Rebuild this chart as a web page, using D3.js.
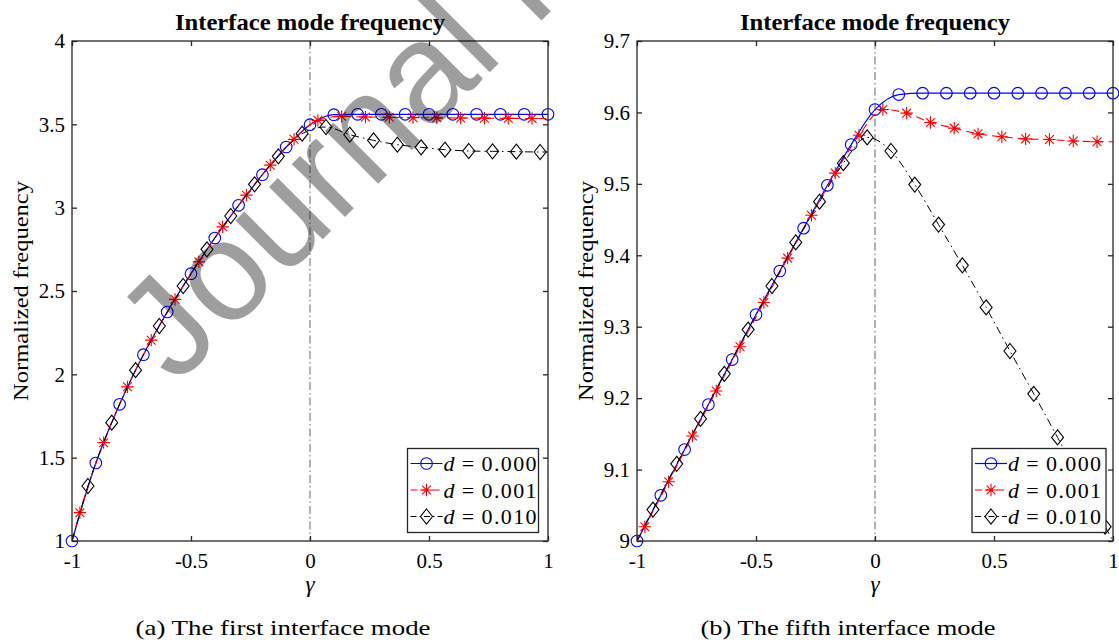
<!DOCTYPE html>
<html>
<head>
<meta charset="utf-8">
<script src="https://cdn.jsdelivr.net/npm/d3@7"></script>
<style>
  html, body { margin: 0; padding: 0; background: #fff; }
  svg { display: block; }
  text { font-family: "Liberation Serif", "Times New Roman", serif; fill: #000; }
  text.wm { font-family: "Liberation Sans", Arial, sans-serif; }
</style>
</head>
<body>
<svg id="chart" width="1119" height="642"></svg>
<script>
// ---------------- data ----------------
const gammaCircle = [-1, -0.9, -0.8, -0.7, -0.6, -0.5, -0.4, -0.3, -0.2, -0.1, 0, 0.1, 0.2, 0.3, 0.4, 0.5, 0.6, 0.7, 0.8, 0.9, 1];
const gammaStar = [-0.967, -0.867, -0.767, -0.667, -0.567, -0.467, -0.367, -0.267, -0.167, -0.067, 0.033, 0.133, 0.233, 0.333, 0.433, 0.533, 0.633, 0.733, 0.833, 0.933];
const gammaDiamond = [-0.933, -0.833, -0.733, -0.633, -0.533, -0.433, -0.333, -0.233, -0.133, -0.033, 0.067, 0.167, 0.267, 0.367, 0.467, 0.567, 0.667, 0.767, 0.867, 0.967];
const gammaStart = -1;
const gammaEnd = 1;

// (a) first interface mode
const freqA_d000 = [1.000, 1.468, 1.820, 2.118, 2.374, 2.604, 2.818, 3.014, 3.198, 3.364, 3.498, 3.558, 3.560, 3.560, 3.560, 3.560, 3.560, 3.560, 3.560, 3.560, 3.560];
const freqA_d001 = [1.170, 1.590, 1.925, 2.205, 2.450, 2.675, 2.885, 3.075, 3.255, 3.410, 3.524, 3.548, 3.544, 3.542, 3.540, 3.539, 3.538, 3.537, 3.536, 3.535];
const freqA_d010 = [1.330, 1.710, 2.025, 2.290, 2.530, 2.750, 2.950, 3.140, 3.308, 3.444, 3.484, 3.438, 3.404, 3.378, 3.362, 3.348, 3.340, 3.338, 3.336, 3.334];
const freqA_start = 1.000;
const freqA_end = [3.560, 3.535, 3.334];

// (b) fifth interface mode
const freqB_d000 = [9.000, 9.064, 9.128, 9.191, 9.254, 9.317, 9.378, 9.438, 9.498, 9.555, 9.604, 9.625, 9.627, 9.627, 9.627, 9.627, 9.627, 9.627, 9.627, 9.627, 9.627];
const freqB_d001 = [9.020, 9.083, 9.147, 9.210, 9.272, 9.334, 9.396, 9.456, 9.515, 9.568, 9.604, 9.599, 9.586, 9.578, 9.570, 9.566, 9.563, 9.562, 9.560, 9.559];
const freqB_d010 = [9.044, 9.108, 9.171, 9.234, 9.296, 9.357, 9.418, 9.475, 9.529, 9.565, 9.546, 9.499, 9.443, 9.386, 9.327, 9.266, 9.206, 9.145, 9.083, 9.020];
const freqB_start = 9.000;
const freqB_end = [9.627, 9.559, 9.000];

const xTicks = [-1, -0.5, 0, 0.5, 1];
const xTickLabels = ["-1", "-0.5", "0", "0.5", "1"];
const yTicksA = [1, 1.5, 2, 2.5, 3, 3.5, 4];
const yTickLabelsA = ["1", "1.5", "2", "2.5", "3", "3.5", "4"];
const yTicksB = [9, 9.1, 9.2, 9.3, 9.4, 9.5, 9.6, 9.7];
const yTickLabelsB = ["9", "9.1", "9.2", "9.3", "9.4", "9.5", "9.6", "9.7"];

const seriesNames = ["0.000", "0.001", "0.010"];
const panelTitle = "Interface mode frequency";
const yAxisLabel = "Normalized frequency";
const xAxisLabel = "γ";
const captions = ["(a) The first interface mode", "(b) The fifth interface mode"];
const watermark = "Journal Pre-proof";

// ---------------- styles ----------------
const seriesStyle = [
  { color: "#0000ff", dash: null, marker: "circle", width: 1.2 },
  { color: "#ff0000", dash: "8,5", marker: "star", width: 1.1 },
  { color: "#000000", dash: "8,4,1.5,4", marker: "diamond", width: 1.0 }
];
const axisColor = "#262626";

const svg = d3.select("#chart");

function markerPath(type) {
  if (type === "diamond") return "M0,-7.5L6,0L0,7.5L-6,0Z";
  const a = 6.2, b = 4.4;
  return `M${-a},0L${a},0M0,${-a}L0,${a}M${-b},${-b}L${b},${b}M${-b},${b}L${b},${-b}`;
}

function drawMarker(g, type, x, y, color) {
  if (type === "circle") {
    g.append("circle").attr("cx", x).attr("cy", y).attr("r", 5.8)
      .attr("fill", "none").attr("stroke", color).attr("stroke-width", 1.1);
  } else {
    g.append("path").attr("d", markerPath(type)).attr("transform", `translate(${x},${y})`)
      .attr("fill", "none").attr("stroke", color).attr("stroke-width", 1.1);
  }
}

function drawPanel(cfg) {
  const { x0, x1, y0, y1, yDomain, yTicks, yTickLabels, series, start, ends, vColor, vWidth, legendX, captionX } = cfg;
  const x = d3.scaleLinear().domain([-1, 1]).range([x0, x1]);
  const y = d3.scaleLinear().domain(yDomain).range([y1, y0]);
  const g = svg.append("g");

  g.append("line").attr("x1", x(0)).attr("x2", x(0)).attr("y1", y0).attr("y2", y1)
    .attr("stroke", vColor).attr("stroke-width", vWidth).attr("stroke-dasharray", "8,3,1.5,3");

  const clipId = "clip" + x0;
  svg.append("clipPath").attr("id", clipId).append("rect")
    .attr("x", x0).attr("y", y0).attr("width", x1 - x0).attr("height", y1 - y0);

  const line = d3.line().x(d => x(d[0])).y(d => y(d[1])).curve(d3.curveMonotoneX);
  const gammas = [gammaCircle, gammaStar, gammaDiamond];

  series.forEach((vals, i) => {
    const st = seriesStyle[i];
    let pts = gammas[i].map((gm, k) => [gm, vals[k]]);
    const markPts = pts.slice();
    if (pts[0][0] !== gammaStart) pts.unshift([gammaStart, start]);
    if (pts[pts.length - 1][0] !== gammaEnd) pts.push([gammaEnd, ends[i]]);
    g.append("path").datum(pts).attr("d", line).attr("fill", "none")
      .attr("stroke", st.color).attr("stroke-width", st.width)
      .attr("stroke-dasharray", st.dash).attr("clip-path", `url(#${clipId})`);
    const mg = g.append("g");
    markPts.forEach(p => drawMarker(mg, st.marker, x(p[0]), y(p[1]), st.color));
  });

  g.append("rect").attr("x", x0).attr("y", y0).attr("width", x1 - x0).attr("height", y1 - y0)
    .attr("fill", "none").attr("stroke", axisColor).attr("stroke-width", 1.3);

  const tl = 5;
  const xAxisB = d3.axisBottom(x).tickValues(xTicks).tickSizeInner(-tl).tickSizeOuter(0)
    .tickFormat((d, i) => xTickLabels[i]).tickPadding(12);
  const gx = g.append("g").attr("transform", `translate(0,${y1})`).call(xAxisB);
  gx.attr("font-size", 21).attr("font-family", null);
  gx.select(".domain").remove();
  gx.selectAll(".tick line").attr("stroke", axisColor).attr("stroke-width", 1.3);
  gx.selectAll(".tick text").attr("fill", "#000");
  const xAxisT = d3.axisTop(x).tickValues(xTicks).tickSizeInner(-tl).tickSizeOuter(0).tickFormat("");
  const gxt = g.append("g").attr("transform", `translate(0,${y0})`).call(xAxisT);
  gxt.select(".domain").remove();
  gxt.selectAll(".tick line").attr("stroke", axisColor).attr("stroke-width", 1.3);

  const yAxisL = d3.axisLeft(y).tickValues(yTicks).tickSizeInner(-tl).tickSizeOuter(0)
    .tickFormat((d, i) => yTickLabels[i]).tickPadding(7);
  const gy = g.append("g").attr("transform", `translate(${x0},0)`).call(yAxisL);
  gy.attr("font-size", 21).attr("font-family", null);
  gy.select(".domain").remove();
  gy.selectAll(".tick line").attr("stroke", axisColor).attr("stroke-width", 1.3);
  gy.selectAll(".tick text").attr("fill", "#000");
  const yAxisR = d3.axisRight(y).tickValues(yTicks).tickSizeInner(-tl).tickSizeOuter(0).tickFormat("");
  const gyr = g.append("g").attr("transform", `translate(${x1},0)`).call(yAxisR);
  gyr.select(".domain").remove();
  gyr.selectAll(".tick line").attr("stroke", axisColor).attr("stroke-width", 1.3);

  g.append("text").attr("x", (x0 + x1) / 2).attr("y", 30).attr("text-anchor", "middle")
    .attr("font-size", 23.5).attr("font-weight", "bold")
    .attr("textLength", 270).attr("lengthAdjust", "spacingAndGlyphs").text(panelTitle);
  g.append("text").attr("transform", `translate(${x0 - 44},${(y0 + y1) / 2}) rotate(-90)`)
    .attr("text-anchor", "middle").attr("font-size", 22)
    .attr("textLength", 220).attr("lengthAdjust", "spacingAndGlyphs").text(yAxisLabel);
  g.append("text").attr("x", x(0)).attr("y", 592).attr("text-anchor", "middle")
    .attr("font-size", 23).attr("font-style", "italic").text(xAxisLabel);
  g.append("text").attr("x", captionX).attr("y", 635).attr("text-anchor", "middle")
    .attr("font-size", 21).attr("textLength", 295).attr("lengthAdjust", "spacingAndGlyphs").text(cfg.caption);

  const lw = cfg.legendW, lh = 84, ly = 448.5;
  const lg = g.append("g").attr("transform", `translate(${legendX},${ly})`);
  lg.append("rect").attr("width", lw).attr("height", lh).attr("fill", "#fff")
    .attr("stroke", axisColor).attr("stroke-width", 1.3);
  seriesNames.forEach((nm, i) => {
    const st = seriesStyle[i];
    const ry = 15 + i * 26.5;
    lg.append("line").attr("x1", 3).attr("x2", 35).attr("y1", ry).attr("y2", ry)
      .attr("stroke", st.color).attr("stroke-width", st.width).attr("stroke-dasharray", st.dash ? (i === 1 ? "7,4" : "6,3,1.5,3") : null);
    drawMarker(lg, st.marker, 19, ry, st.color);
    const t = lg.append("text").attr("x", 36).attr("y", ry + 7.5).attr("font-size", 22)
      .attr("textLength", 93).attr("lengthAdjust", "spacing");
    t.append("tspan").attr("font-style", "italic").text("d");
    t.append("tspan").attr("dx", 6).text("=");
    t.append("tspan").attr("dx", 6).text(nm);
  });
}

drawPanel({
  x0: 72, x1: 548, y0: 41, y1: 541, yDomain: [1, 4], yTicks: yTicksA, yTickLabels: yTickLabelsA,
  series: [freqA_d000, freqA_d001, freqA_d010], start: freqA_start, ends: freqA_end,
  vColor: "#8c8c8c", vWidth: 1.3, legendX: 407.5, legendW: 131, captionX: 283, caption: captions[0]
});
drawPanel({
  x0: 637, x1: 1113, y0: 41, y1: 541, yDomain: [9, 9.7], yTicks: yTicksB, yTickLabels: yTickLabelsB,
  series: [freqB_d000, freqB_d001, freqB_d010], start: freqB_start, ends: freqB_end,
  vColor: "#3a3a3a", vWidth: 0.8, legendX: 972, legendW: 134, captionX: 848, caption: captions[1]
});

// watermark overlay (semi-transparent, on top of the plot)
svg.append("text").attr("class", "wm").attr("transform", "translate(176,386) rotate(-45)")
  .attr("font-size", 142).attr("fill", "#808080").attr("fill-opacity", 0.38).text(watermark);
</script>
</body>
</html>
